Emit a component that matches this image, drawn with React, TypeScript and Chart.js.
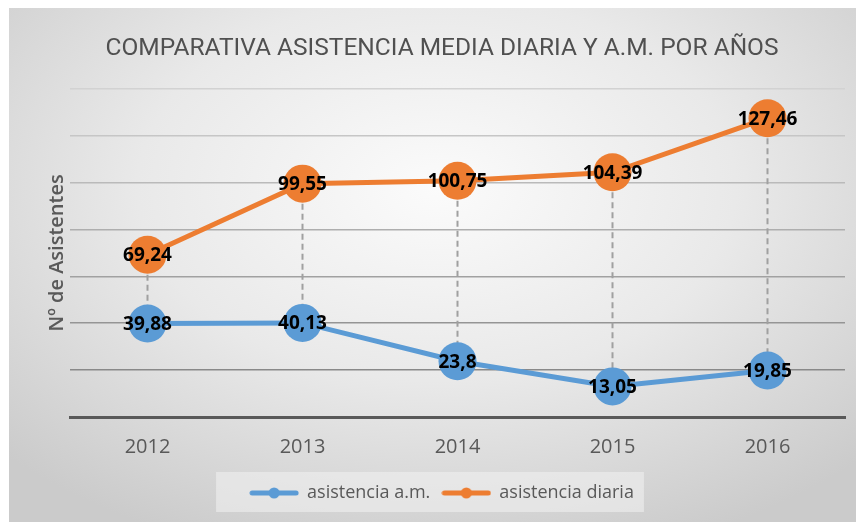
import React, { useEffect, useRef } from "react";
import { Chart, registerables } from "chart.js";

Chart.register(...registerables);

const years = ["2012", "2013", "2014", "2015", "2016"];
const asistenciaAM = [39.88, 40.13, 23.8, 13.05, 19.85];
const asistenciaDiaria = [69.24, 99.55, 100.75, 104.39, 127.46];
const yMax = 140;
const yStep = 20;

const BLUE = "#5B9BD5";
const ORANGE = "#ED7D31";
const GRAY_TEXT = "#595959";

function legendIcon(color: string) {
  const c = document.createElement("canvas");
  c.width = 50;
  c.height = 14;
  const ctx = c.getContext("2d")!;
  ctx.strokeStyle = color;
  ctx.lineWidth = 5;
  ctx.lineCap = "round";
  ctx.beginPath();
  ctx.moveTo(3, 7);
  ctx.lineTo(47, 7);
  ctx.stroke();
  ctx.fillStyle = color;
  ctx.beginPath();
  ctx.arc(25, 7, 5.5, 0, Math.PI * 2);
  ctx.fill();
  return c;
}

function lerpGray(v: number) {
  const t = Math.max(0, Math.min(1, v / yMax));
  const g = Math.round(125 + (210 - 125) * t);
  return `rgb(${g},${g},${g})`;
}

const hiLowPlugin = {
  id: "hiLow",
  beforeDatasetsDraw(chart: any) {
    const ctx = chart.ctx;
    const m0 = chart.getDatasetMeta(0).data;
    const m1 = chart.getDatasetMeta(1).data;
    ctx.save();
    ctx.strokeStyle = "#a0a0a0";
    ctx.lineWidth = 2;
    ctx.setLineDash([6, 4]);
    for (let i = 0; i < m0.length; i++) {
      ctx.beginPath();
      ctx.moveTo(m1[i].x, m1[i].y);
      ctx.lineTo(m0[i].x, m0[i].y);
      ctx.stroke();
    }
    ctx.restore();
  },
};

const labelPlugin = {
  id: "valueLabels",
  afterDatasetsDraw(chart: any) {
    const ctx = chart.ctx;
    ctx.save();
    ctx.font = "bold 19px 'Open Sans', sans-serif";
    ctx.fillStyle = "#000000";
    ctx.textAlign = "center";
    ctx.textBaseline = "middle";
    chart.data.datasets.forEach((ds: any, di: number) => {
      const pts = chart.getDatasetMeta(di).data;
      pts.forEach((p: any, i: number) => {
        const txt = String(ds.data[i]).replace(".", ",");
        ctx.fillText(txt, p.x, p.y + 1);
      });
    });
    ctx.restore();
  },
};

const legendBgPlugin = {
  id: "legendBg",
  beforeDraw(chart: any) {
    const lg = chart.legend;
    if (!lg || !lg.legendHitBoxes || !lg.legendHitBoxes.length) return;
    const hb = lg.legendHitBoxes;
    const left = Math.min(...hb.map((h: any) => h.left)) - 34;
    const right = Math.max(...hb.map((h: any) => h.left + h.width)) + 10;
    const ctx = chart.ctx;
    ctx.save();
    ctx.fillStyle = "rgba(242,242,242,0.55)";
    ctx.fillRect(left, lg.top, right - left, lg.height);
    ctx.restore();
  },
};

export default function App() {
  const ref = useRef<HTMLCanvasElement>(null);
  useEffect(() => {
    if (!ref.current) return;
    const chart = new Chart(ref.current, {
      type: "line",
      data: {
        labels: years,
        datasets: [
          {
            label: "asistencia a.m.",
            data: asistenciaAM,
            borderColor: BLUE,
            backgroundColor: BLUE,
            borderWidth: 5,
            pointRadius: 19,
            pointHoverRadius: 19,
            pointBackgroundColor: BLUE,
            pointBorderColor: BLUE,
            pointBorderWidth: 0,
          },
          {
            label: "asistencia diaria",
            data: asistenciaDiaria,
            borderColor: ORANGE,
            backgroundColor: ORANGE,
            borderWidth: 5,
            pointRadius: 19,
            pointHoverRadius: 19,
            pointBackgroundColor: ORANGE,
            pointBorderColor: ORANGE,
            pointBorderWidth: 0,
          },
        ],
      },
      options: {
        animation: false,
        responsive: false,
        layout: { padding: { left: 11, right: 0, top: 0, bottom: 10 } },
        elements: { point: { pointStyle: "circle" } },
        plugins: {
          title: {
            display: true,
            text: "COMPARATIVA ASISTENCIA MEDIA DIARIA Y A.M. POR AÑOS",
            color: "#505050",
            font: { family: "'Roboto', sans-serif", size: 24.5, weight: "normal" },
            padding: { top: 26, bottom: 25.4 },
          },
          legend: {
            position: "bottom",
            labels: {
              color: GRAY_TEXT,
              font: { family: "'Open Sans', sans-serif", size: 18 },
              usePointStyle: true,
              pointStyleWidth: 48,
              padding: 12,
              generateLabels: (chart: any) =>
                chart.data.datasets.map((ds: any, i: number) => ({
                  text: ds.label,
                  pointStyle: legendIcon(ds.borderColor),
                  fillStyle: ds.borderColor,
                  strokeStyle: ds.borderColor,
                  lineWidth: 0,
                  fontColor: GRAY_TEXT,
                  datasetIndex: i,
                  hidden: false,
                })),
            },
          },
          tooltip: { enabled: false },
        },
        scales: {
          x: {
            offset: true,
            grid: { display: false, drawTicks: false },
            border: { display: true, color: "#595959", width: 3 },
            ticks: {
              color: GRAY_TEXT,
              font: { family: "'Open Sans', sans-serif", size: 20 },
              padding: 18,
            },
            afterFit: (s: any) => {
              s.height = 55;
            },
          },
          y: {
            min: 0,
            max: yMax,
            ticks: { display: false, stepSize: yStep },
            grid: {
              color: (c: any) => lerpGray(c.tick ? c.tick.value : 0),
              lineWidth: 1.5,
              drawTicks: false,
            },
            border: { display: false },
            title: {
              display: true,
              text: "Nº de Asistentes",
              color: GRAY_TEXT,
              font: { family: "'Open Sans', sans-serif", size: 20, weight: "600" },
              padding: { top: 25, bottom: 0 },
            },
            afterFit: (s: any) => {
              s.width = 50;
            },
          },
          y2: {
            position: "right",
            min: 0,
            max: yMax,
            ticks: { display: false },
            grid: { display: false, drawTicks: false },
            border: { display: false },
            afterFit: (s: any) => {
              s.width = 13;
            },
          },
        },
      },
      plugins: [legendBgPlugin, hiLowPlugin, labelPlugin],
    });
    return () => chart.destroy();
  }, []);
  return (
    <div
      style={{
        width: 855,
        height: 514,
        marginLeft: 1,
        background:
          "radial-gradient(ellipse 70% 75% at 50% 35%, #fbfbfb 0%, #e9e9e9 50%, #cbcbcb 100%)",
      }}
    >
      <canvas ref={ref} width={855} height={514} style={{ display: "block" }} />
    </div>
  );
}
